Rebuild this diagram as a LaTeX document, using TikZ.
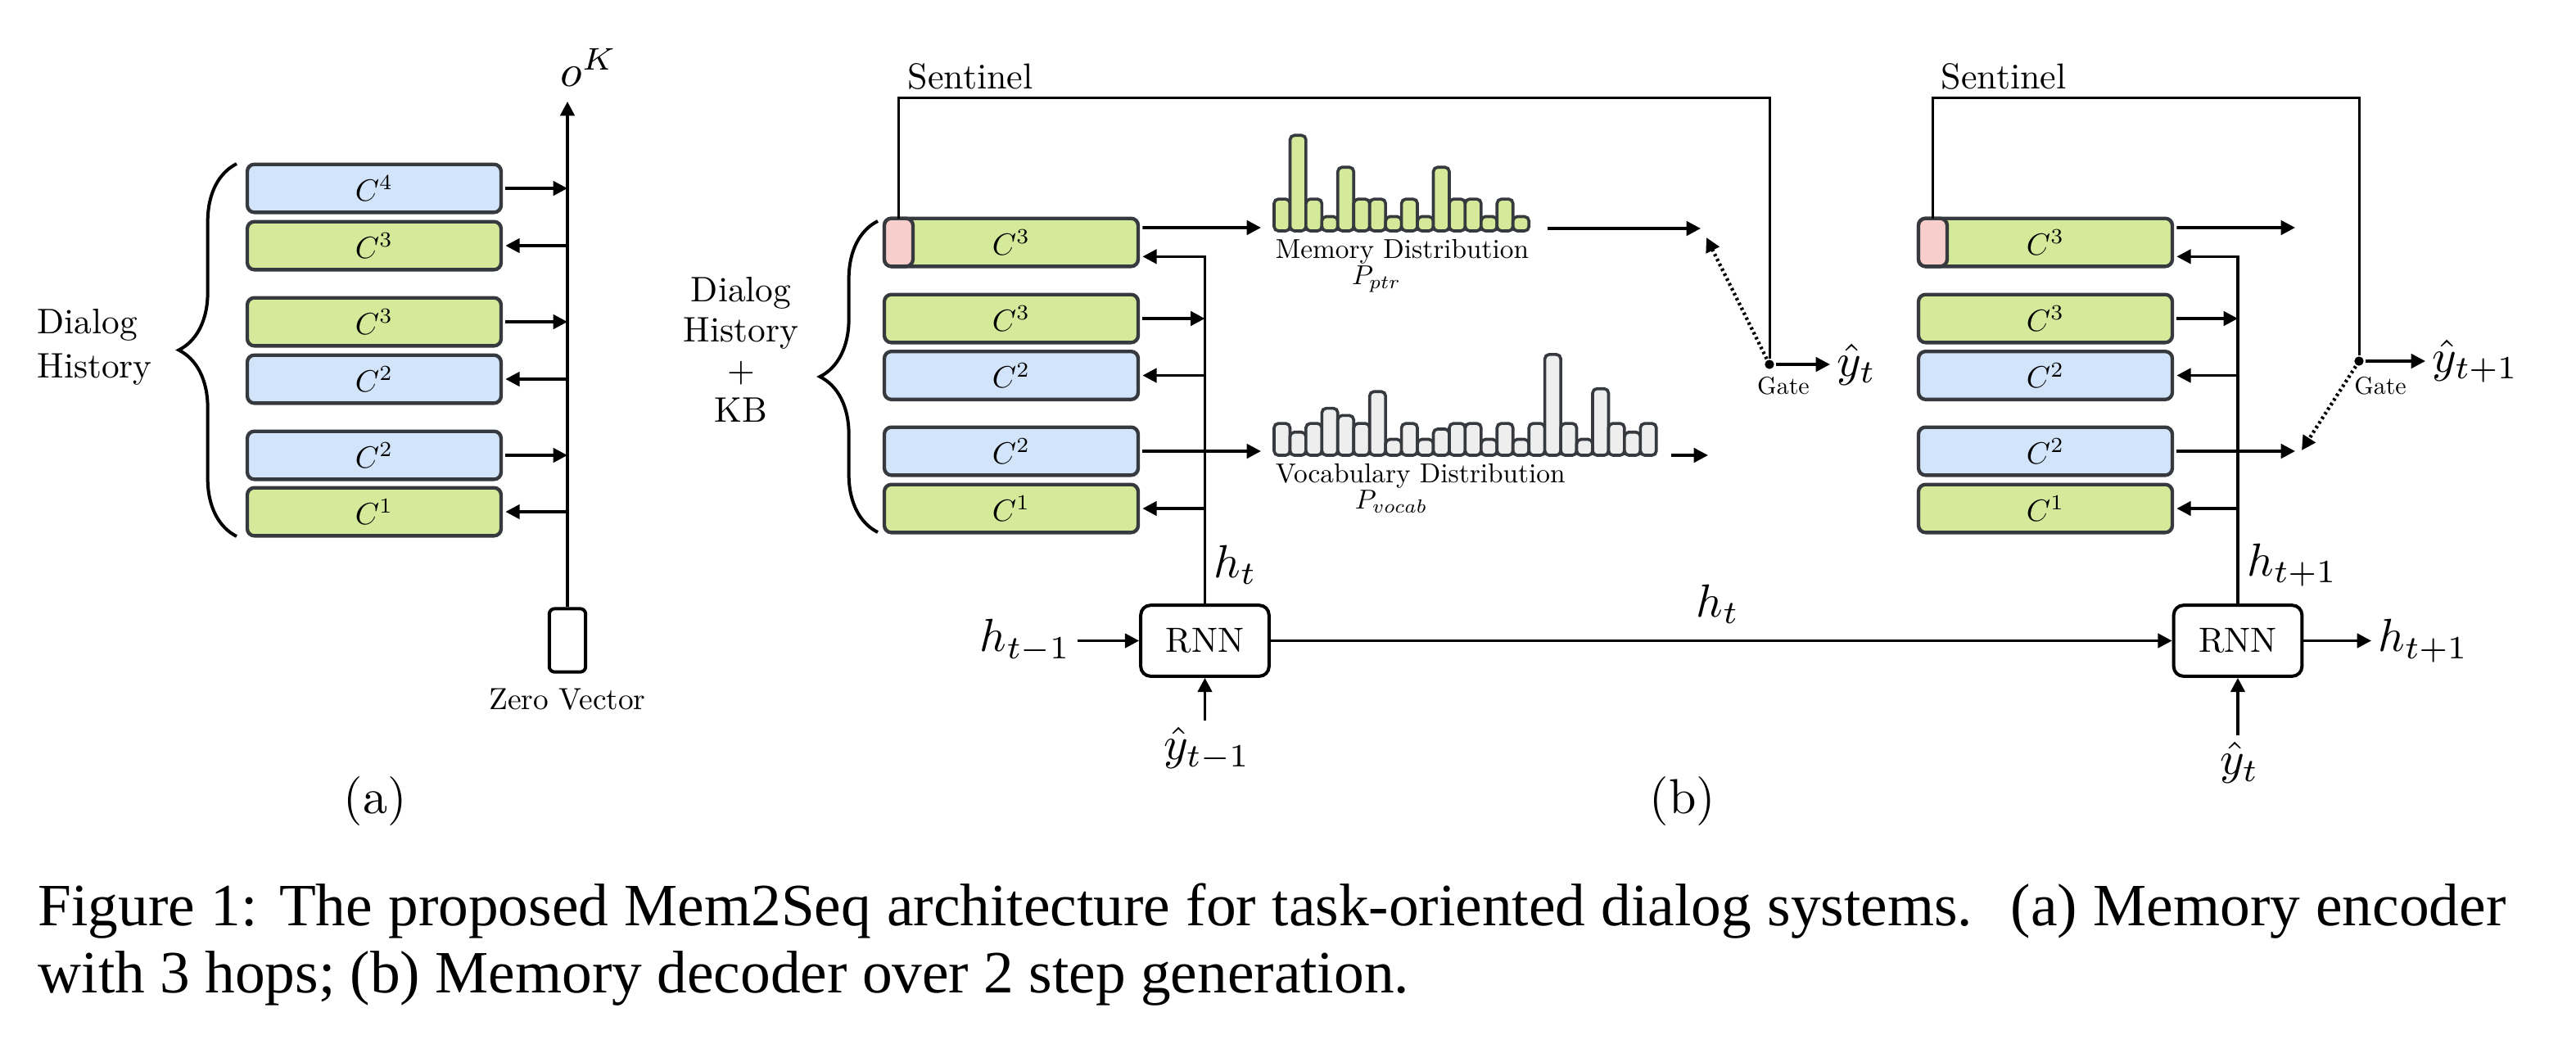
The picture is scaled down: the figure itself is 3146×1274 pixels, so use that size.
\documentclass[tikz,border=0pt]{standalone}
\usepackage{fontspec}
\newfontfamily\capfont{Liberation Serif}
\newfontfamily\tenrm{lmroman10-regular.otf}
\usetikzlibrary{arrows.meta,decorations.pathreplacing,positioning}
\definecolor{cellgreen}{HTML}{D4E99A}
\definecolor{cellblue}{HTML}{D2E4FA}
\definecolor{cellpink}{HTML}{F8CECC}
\definecolor{cellgray}{HTML}{EEEEEE}
\definecolor{celldraw}{HTML}{36393D}
\tikzstyle{memcell}=[
	rectangle,
	rounded corners=1.3,
	draw=celldraw,
	line width=0.65pt,
	minimum width=46.5pt,
	minimum height=8.8pt,
	inner sep=0pt,
	outer sep=0.8pt]
\tikzstyle{pinkcell}=[
	memcell,
	fill=cellpink,
	minimum width=5.25pt,
	outer sep=0pt]
\tikzstyle{rnncell}=[
	rectangle,
	rounded corners=1.8,
	draw=black,
	line width=0.6pt,
	minimum width=23.5pt,
	minimum height=13pt,
	font=\tenrm\fontsize{6.4}{7}\selectfont]
\tikzstyle{zerovec}=[
	rectangle,
	rounded corners=1,
	draw=black,
	line width=0.6pt,
	minimum width=5.9pt,
	minimum height=11.6pt]
\tikzstyle{barp}=[draw=celldraw,fill=cellgreen,line width=0.55pt,rounded corners=0.8]
\tikzstyle{barv}=[draw=celldraw,fill=cellgray,line width=0.55pt,rounded corners=0.8]
\tikzstyle{gatedot}=[circle,fill=black,inner sep=0pt,minimum size=1.7pt]
\tikzstyle{gatearrow}=[->,line width=0.65pt,dash pattern=on 0.45pt off 0.55pt]
\tikzstyle{sentline}=[line width=0.45pt]
\tikzstyle{bracestyle}=[decorate,decoration={brace,amplitude=10.6pt},line width=0.6pt]
\tikzstyle{mathlbl}=[inner sep=1pt]
\tikzstyle{lbltext}=[inner sep=0pt,font=\tenrm\fontsize{6.5}{8.1}\selectfont]
\tikzstyle{distlbl}=[inner sep=0pt,font=\tenrm\fontsize{5}{6}\selectfont]
\tikzstyle{gatelbl}=[inner sep=0pt,font=\tenrm\fontsize{4.5}{5}\selectfont]
\tikzstyle{sublbl}=[inner sep=0pt,font=\tenrm\fontsize{9}{11}\selectfont]
\tikzstyle{capstyle}=[inner sep=0pt,font={\capfont\fontsize{11}{13}\selectfont}]

\begin{document}
\begin{tikzpicture}[x=0.15pt,y=-0.15pt,>={Triangle[length=2.6pt,width=2.6pt]},line width=0.55pt]
	\useasboundingbox (0,0) rectangle (3146,1274);
	% (a) encoder
	\node[memcell,fill=cellblue]	(a1) at (457,230) {\scalebox{0.56}{$C^4$}};
	\node[memcell,fill=cellgreen]	(a2) at (457,300) {\scalebox{0.56}{$C^3$}};
	\node[memcell,fill=cellgreen]	(a3) at (457,393) {\scalebox{0.56}{$C^3$}};
	\node[memcell,fill=cellblue]	(a4) at (457,463) {\scalebox{0.56}{$C^2$}};
	\node[memcell,fill=cellblue]	(a5) at (457,556) {\scalebox{0.56}{$C^2$}};
	\node[memcell,fill=cellgreen]	(a6) at (457,625) {\scalebox{0.56}{$C^1$}};
	\node[zerovec] (zv) at (693,782) {};
	\node[lbltext,font=\tenrm\fontsize{5.6}{6}\selectfont,anchor=base] (zvlbl) at (693,866) {Zero Vector};
	\coordinate (atop) at (693,124);
	\draw[->] (zv) -- (atop);
	\node[mathlbl,anchor=base west] (ok) at (676,105) {\scalebox{0.82}{$o^K$}};
	\draw[->] (a1) -- (a1 -| zv);
	\draw[->] (a2 -| zv) -- (a2);
	\draw[->] (a3) -- (a3 -| zv);
	\draw[->] (a4 -| zv) -- (a4);
	\draw[->] (a5) -- (a5 -| zv);
	\draw[->] (a6 -| zv) -- (a6);
	\draw[bracestyle] (289,655) -- (289,200);
	\node[lbltext,align=left,anchor=west] (dha) at (44,424) {Dialog\\History};
	\node[sublbl] (suba) at (458,978) {(a)};

	% (b) decoder, first step
	\node[lbltext,font=\tenrm\fontsize{6.5}{7.35}\selectfont,align=center] (dhb) at (905,427) {Dialog\\History\\+\\KB};
	\draw[bracestyle] (1072,650) -- (1072,270);
	\node[memcell,fill=cellgreen]	(m1) at (1235,296) {\scalebox{0.56}{$C^3$}};
	\node[pinkcell,anchor=west]	(p1) at ([xshift=0.8pt]m1.west) {};
	\node[memcell,fill=cellgreen]	(m2) at (1235,389) {\scalebox{0.56}{$C^3$}};
	\node[memcell,fill=cellblue]	(m3) at (1235,458.5) {\scalebox{0.56}{$C^2$}};
	\node[memcell,fill=cellblue]	(m4) at (1235,551) {\scalebox{0.56}{$C^2$}};
	\node[memcell,fill=cellgreen]	(m5) at (1235,621) {\scalebox{0.56}{$C^1$}};
	\node[rnncell] (rnnL) at (1471.5,782.5) {RNN};
	\draw[->] (rnnL) |- ([yshift=-2.6pt]m1.east);
	\draw[->] (m2) -- (m2 -| rnnL);
	\draw[->] (m3 -| rnnL) -- (m3);
	\draw[->] (m5 -| rnnL) -- (m5);
	\node[mathlbl,anchor=west] (htL) at (1474,690) {\scalebox{0.85}{$h_t$}};
	\node[mathlbl,anchor=east] (htm1) at (1316,782.5) {\scalebox{0.85}{$h_{t-1}$}};
	\draw[->] (htm1) -- (rnnL);
	\node[mathlbl,anchor=north] (ytm1) at (1474,880) {\scalebox{0.85}{$\hat{y}_{t-1}$}};
	\draw[->] (rnnL |- ytm1.north) -- (rnnL);

	\foreach \h [count=\i from 0] in {2,6,2,0.9,4,2,2,0.9,2,0.9,4,2,2,0.9,2,0.9}
		\draw[barp] (1556+19.45*\i,282) rectangle ++(19.45,-19.45*\h);
	\node[distlbl,anchor=base west] (ptrlbl) at (1556,315) {Memory Distribution};
	\node[mathlbl,inner sep=0pt,anchor=base] (pptr) at (1681,347) {\scalebox{0.5}{$P_{ptr}$}};
	\foreach \h [count=\i from 0] in {2,1.45,2,2.95,2.5,2,4,1,2,1,1.65,2,2,1,2,1,2,6.33,2,1,4.18,2,1.45,2}
		\draw[barv] (1556+19.45*\i,556) rectangle ++(19.45,-19.45*\h);
	\node[distlbl,anchor=base west] (voclbl) at (1556,589) {Vocabulary Distribution};
	\node[mathlbl,inner sep=0pt,anchor=base] (pvoc) at (1699,621) {\scalebox{0.5}{$P_{vocab}$}};

	\coordinate (ptrin) at (1540,278);
	\coordinate (vocin) at (1540,551);
	\draw[->] ([yshift=2.7pt]m1.east) -- (ptrin);
	\draw[->] (m4) -- (vocin);
	\coordinate (ptrout) at (1890,279);
	\coordinate (ptrend) at (2077,279);
	\draw[->] (ptrout) -- (ptrend);
	\coordinate (vocout) at (2041,556);
	\coordinate (vocend) at (2086,556);
	\draw[->] (vocout) -- (vocend);

	\coordinate (topL) at (0,119);
	\node[gatedot] (gateL) at (2161,445) {};
	\draw[sentline] (p1.north) -- (p1.north |- topL) -| (gateL);
	\node[lbltext,font=\tenrm\fontsize{6.6}{7}\selectfont,anchor=base west] (sentL) at (1107,108) {Sentinel};
	\node[gatelbl,anchor=base] (gtL) at (2178,481) {Gate};
	\node[mathlbl,anchor=west] (ytL) at (2235,445) {\scalebox{0.85}{$\hat{y}_t$}};
	\draw[->] (gateL) -- (ytL);
	\coordinate (ptrgate) at (2084,290);
	\draw[gatearrow] (gateL) -- (ptrgate);

	\node[mathlbl] (htmid) at (2098,738) {\scalebox{0.85}{$h_t$}};
	\node[sublbl] (subb) at (2055,978) {(b)};

	% (b) decoder, second step
	\node[memcell,fill=cellgreen]	(n1) at (2498,296) {\scalebox{0.56}{$C^3$}};
	\node[pinkcell,anchor=west]	(p2) at ([xshift=0.8pt]n1.west) {};
	\node[memcell,fill=cellgreen]	(n2) at (2498,389) {\scalebox{0.56}{$C^3$}};
	\node[memcell,fill=cellblue]	(n3) at (2498,458.5) {\scalebox{0.56}{$C^2$}};
	\node[memcell,fill=cellblue]	(n4) at (2498,551) {\scalebox{0.56}{$C^2$}};
	\node[memcell,fill=cellgreen]	(n5) at (2498,621) {\scalebox{0.56}{$C^1$}};
	\node[rnncell] (rnnR) at (2733,782.5) {RNN};
	\draw[->] (rnnL) -- (rnnR);
	\draw[->] (rnnR) |- ([yshift=-2.6pt]n1.east);
	\draw[->] (n2) -- (n2 -| rnnR);
	\draw[->] (n3 -| rnnR) -- (n3);
	\draw[->] (n5 -| rnnR) -- (n5);
	\node[mathlbl,anchor=west] (htp1v) at (2736,690) {\scalebox{0.85}{$h_{t+1}$}};
	\node[mathlbl,anchor=west] (htp1) at (2896,782.5) {\scalebox{0.85}{$h_{t+1}$}};
	\draw[->] (rnnR) -- (htp1);
	\node[mathlbl,anchor=north] (yt) at (2735,898) {\scalebox{0.85}{$\hat{y}_t$}};
	\draw[->] (rnnR |- yt.north) -- (rnnR);

	\coordinate (nptr) at (2803,278);
	\coordinate (nvoc) at (2803,551);
	\draw[->] ([yshift=2.7pt]n1.east) -- (nptr);
	\draw[->] (n4) -- (nvoc);

	\node[gatedot] (gateR) at (2881,441) {};
	\draw[sentline] (p2.north) -- (p2.north |- topL) -| (gateR);
	\node[lbltext,font=\tenrm\fontsize{6.6}{7}\selectfont,anchor=base west] (sentR) at (2369,108) {Sentinel};
	\node[gatelbl,anchor=base] (gtR) at (2907,481) {Gate};
	\node[mathlbl,anchor=west] (ytR) at (2962,441) {\scalebox{0.85}{$\hat{y}_{t+1}$}};
	\draw[->] (gateR) -- (ytR);
	\coordinate (nvocgate) at (2811,550);
	\draw[gatearrow] (gateR) -- (nvocgate);

	% caption
	\node[capstyle,anchor=base west] (cap1) at (45,1130) {\makebox[452pt][s]{Figure 1: The proposed Mem2Seq architecture for task-oriented dialog systems. \ (a) Memory encoder}};
	\node[capstyle,anchor=base west] (cap2) at (45,1212) {with 3 hops; (b) Memory decoder over 2 step generation.};
\end{tikzpicture}
\end{document}
